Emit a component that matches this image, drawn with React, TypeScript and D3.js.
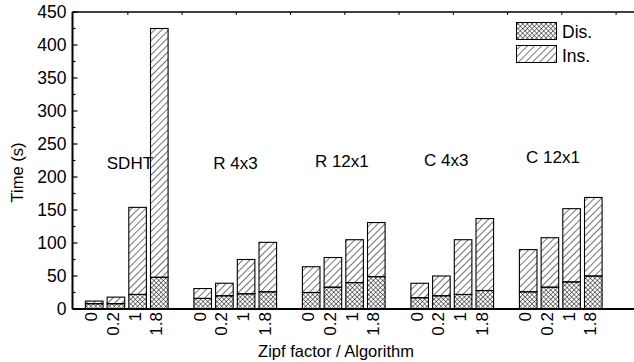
import React from 'react';
import * as d3 from 'd3';

// Zipf factors per algorithm group and the algorithm names
const zipfLabels = ['0', '0.2', '1', '1.8'];
const algorithms = ['SDHT', 'R 4x3', 'R 12x1', 'C 4x3', 'C 12x1'];

// Time (s) for the Dis. part, per group, per zipf factor
const disValues = [
  [8, 8, 22, 48],
  [16, 20, 23, 26],
  [25, 33, 40, 49],
  [17, 20, 22, 28],
  [26, 33, 41, 50],
];
// Time (s) for the Ins. part, stacked on top of Dis.
const insValues = [
  [4, 10, 132, 377],
  [15, 19, 52, 75],
  [39, 45, 65, 82],
  [22, 30, 83, 109],
  [64, 75, 111, 119],
];

// where each algorithm label sits, in slot units / seconds
const algLabelSlot = [0.58, 5.49, 10.17, 15.2, 19.9];
const algLabelValue = [211.7, 211.7, 214.4, 216.7, 220.7];

const yMajorTicks = d3.range(0, 451, 50);
const yMinorTicks = d3.range(25, 450, 50);
const topTicks = d3.range(1.55, 25, 2.5);

const W = 634;
const H = 362;
const FONT = '"Liberation Sans", Arial, Helvetica, sans-serif';

export default function App() {
  const x = d3.scaleLinear().domain([-1, 25]).range([72.5, 636.7]);
  const y = d3.scaleLinear().domain([0, 450]).range([309, 12]);
  const slotW = x(1) - x(0);
  const barW = slotW * 0.81;

  const bars = algorithms.flatMap((alg, g) =>
    zipfLabels.map((z, j) => ({
      slot: g * 5 + j,
      zipf: z,
      dis: disValues[g][j],
      ins: insValues[g][j],
    }))
  );

  const [x0, x1] = x.range();
  const [yBottom, yTop] = y.range();

  return (
    <svg
      width={W}
      height={H}
      style={{ position: 'absolute', left: 0, top: 0, background: '#fff' }}
      fontFamily={FONT}
    >
      <defs>
        <pattern id="ins" width="5" height="5" patternUnits="userSpaceOnUse" patternTransform="rotate(45)">
          <line x1="0" y1="-1" x2="0" y2="6" stroke="#000" strokeWidth="1.1" />
        </pattern>
        <pattern id="dis" width="3.3" height="3.3" patternUnits="userSpaceOnUse" patternTransform="rotate(45)">
          <line x1="0" y1="-1" x2="0" y2="5" stroke="#000" strokeWidth="0.95" />
          <line x1="-1" y1="0" x2="5" y2="0" stroke="#000" strokeWidth="0.95" />
        </pattern>
      </defs>

      {/* bars */}
      {bars.map((b) => {
        const cx = x(b.slot);
        return (
          <g key={b.slot}>
            <rect
              x={cx - barW / 2}
              y={y(b.dis)}
              width={barW}
              height={y(0) - y(b.dis)}
              fill="url(#dis)"
              stroke="#000"
              strokeWidth={1.1}
            />
            <rect
              x={cx - barW / 2}
              y={y(b.dis + b.ins)}
              width={barW}
              height={y(b.dis) - y(b.dis + b.ins)}
              fill="url(#ins)"
              stroke="#000"
              strokeWidth={1.1}
            />
            <text
              transform={`translate(${cx},${yBottom + 3}) rotate(-90)`}
              dy={3}
              textAnchor="end"
              fontSize={17}
            >
              {b.zipf}
            </text>
          </g>
        );
      })}

      {/* algorithm labels */}
      {algorithms.map((a, i) => (
        <text key={a} x={x(algLabelSlot[i])} y={y(algLabelValue[i])} fontSize={17}>
          {a}
        </text>
      ))}

      {/* axes */}
      <line x1={x0} x2={x1} y1={yBottom} y2={yBottom} stroke="#000" strokeWidth={2} />
      <line x1={x0} x2={x1} y1={yTop} y2={yTop} stroke="#000" strokeWidth={1.6} />
      <line x1={x0} x2={x0} y1={yTop} y2={yBottom} stroke="#000" strokeWidth={2} />
      {topTicks.map((t) => (
        <line key={t} x1={x(t)} x2={x(t)} y1={yTop} y2={yTop + 3} stroke="#000" strokeWidth={1} />
      ))}
      {yMajorTicks.map((t) => (
        <g key={t}>
          <line x1={x0} x2={x0 + 5} y1={y(t)} y2={y(t)} stroke="#000" strokeWidth={1.2} />
          <text x={66.5} y={y(t)} dy="0.36em" textAnchor="end" fontSize={17.5}>
            {t}
          </text>
        </g>
      ))}
      {yMinorTicks.map((t) => (
        <line key={t} x1={x0} x2={x0 + 3} y1={y(t)} y2={y(t)} stroke="#000" strokeWidth={1.2} />
      ))}

      {/* axis titles */}
      <text x={336} y={357} textAnchor="middle" fontSize={16.5}>
        Zipf factor / Algorithm
      </text>
      <text transform="translate(23,172.5) rotate(-90)" textAnchor="middle" fontSize={16.5}>
        Time (s)
      </text>

      {/* legend */}
      <g>
        <rect x={516.5} y={22.5} width={40} height={17} fill="url(#dis)" stroke="#000" strokeWidth={1} />
        <text x={562} y={38.3} fontSize={17.5}>Dis.</text>
        <rect x={516.5} y={45.5} width={40} height={17} fill="url(#ins)" stroke="#000" strokeWidth={1} />
        <text x={562} y={61.5} fontSize={17.5}>Ins.</text>
      </g>
    </svg>
  );
}
